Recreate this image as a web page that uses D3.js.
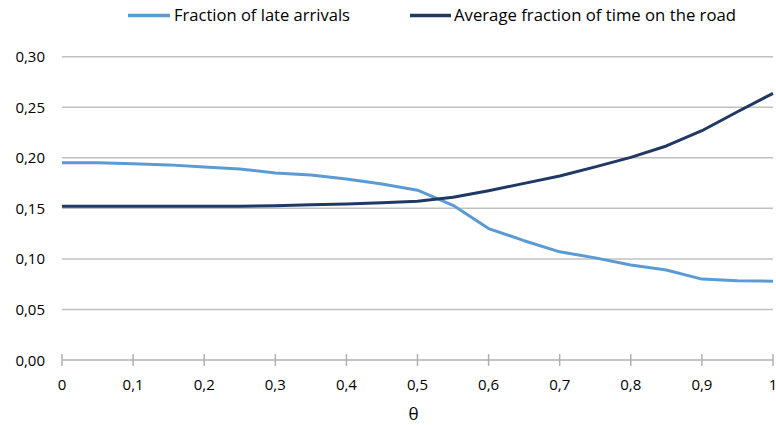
<!DOCTYPE html>
<html><head><meta charset="utf-8">
<script src="https://cdn.jsdelivr.net/npm/d3@7"></script>
<style>body{margin:0;background:#fff}svg{display:block}text{font-family:"Open Sans",sans-serif;fill:#000}</style>
</head><body><svg id="c" width="776" height="425"></svg>
<script>
const theta = [0,0.05,0.1,0.15,0.2,0.25,0.3,0.35,0.4,0.45,0.5,0.55,0.6,0.65,0.7,0.75,0.8,0.85,0.9,0.95,1];
const lateArrivals = [0.195,0.195,0.194,0.193,0.191,0.189,0.185,0.183,0.179,0.174,0.168,0.153,0.130,0.118,0.107,0.101,0.094,0.089,0.080,0.0785,0.078];
const timeOnRoad = [0.152,0.152,0.152,0.152,0.152,0.1522,0.1526,0.1535,0.1543,0.1556,0.157,0.161,0.1675,0.1747,0.182,0.191,0.2004,0.2117,0.2268,0.2456,0.2638];
const seriesNames = ["Fraction of late arrivals","Average fraction of time on the road"];
const seriesColors = ["#5B9BD5","#203864"];
const xTicks = [0,0.1,0.2,0.3,0.4,0.5,0.6,0.7,0.8,0.9,1];
const yTicks = [0,0.05,0.1,0.15,0.2,0.25,0.3];

const svg = d3.select("#c");
const x = d3.scaleLinear().domain([0,1]).range([62,773]);
const y = d3.scaleLinear().domain([0,0.3]).range([360,56.7]);
const fmt = v => (v===0||v===1) ? String(v) : v.toString().replace(".",",");

// gridlines
svg.append("g").selectAll("line").data(yTicks.filter(d=>d>0)).join("line")
  .attr("x1",62).attr("x2",773).attr("y1",d=>y(d)).attr("y2",d=>y(d))
  .attr("stroke","#c0c0c0").attr("stroke-width",1.5);
// y labels
svg.append("g").selectAll("text").data(yTicks).join("text")
  .attr("x",45).attr("y",d=>y(d)+5.5).attr("text-anchor","end").attr("font-size",15)
  .text(d=>d.toFixed(2).replace(".",","));
// x axis
svg.append("line").attr("x1",62).attr("x2",773).attr("y1",y(0)).attr("y2",y(0)).attr("stroke","#b0b0b0").attr("stroke-width",1.5);
svg.append("g").selectAll("line").data(xTicks).join("line")
  .attr("x1",d=>x(d)).attr("x2",d=>x(d)).attr("y1",y(0)-6).attr("y2",y(0)+6)
  .attr("stroke","#b0b0b0").attr("stroke-width",1.5);
svg.append("g").selectAll("text").data(xTicks).join("text")
  .attr("x",d=>x(d)).attr("y",389.5).attr("text-anchor","middle").attr("font-size",15)
  .text(d=>fmt(d));
svg.append("text").attr("x",413.5).attr("y",420).attr("text-anchor","middle").attr("font-size",17).text("θ");

// lines
const line = d3.line().x((d,i)=>x(theta[i])).y(d=>y(d));
[lateArrivals,timeOnRoad].forEach((s,k)=>{
  svg.append("path").attr("d",line(s)).attr("fill","none").attr("stroke",seriesColors[k])
    .attr("stroke-width",3).attr("stroke-linejoin","round");
});

// legend
const leg = [{x0:128,x1:170,tx:174,tw:176},{x0:410,x1:451,tx:454,tw:282}];
leg.forEach((L,k)=>{
  svg.append("line").attr("x1",L.x0).attr("x2",L.x1).attr("y1",15.5).attr("y2",15.5)
    .attr("stroke",seriesColors[k]).attr("stroke-width",3.5);
  svg.append("text").attr("x",L.tx).attr("y",21).attr("font-size",15.5)
    .attr("textLength",L.tw).attr("lengthAdjust","spacingAndGlyphs").text(seriesNames[k]);
});
</script></body></html>
